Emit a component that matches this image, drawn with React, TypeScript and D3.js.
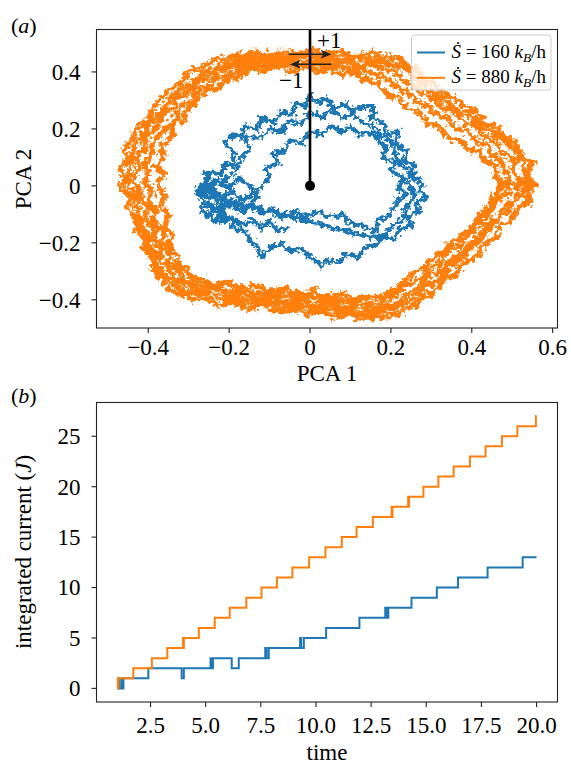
import { useEffect, useRef } from "react";
import * as d3 from "d3";

const BLUE = "#1f77b4";
const ORANGE = "#ff7f0e";
const FONT = "Liberation Serif, Times New Roman, Times, serif";

// (a) PCA trajectories (several laps for the fast one)
const orangeLapOuter: [number, number][] = [
  [0.55, 0.0], [0.54, 0.05], [0.55, 0.08], [0.52, 0.11], [0.51, 0.15], [0.48, 0.17], [0.46, 0.21], [0.43, 0.22],
  [0.41, 0.26], [0.38, 0.28], [0.36, 0.31], [0.33, 0.32], [0.31, 0.36], [0.28, 0.37], [0.27, 0.41], [0.24, 0.42],
  [0.22, 0.45], [0.18, 0.45], [0.15, 0.47], [0.11, 0.45], [0.08, 0.47], [0.04, 0.46], [0.01, 0.48], [-0.03, 0.46],
  [-0.06, 0.47], [-0.1, 0.46], [-0.13, 0.47], [-0.17, 0.46], [-0.21, 0.45], [-0.24, 0.44], [-0.27, 0.41], [-0.3, 0.4],
  [-0.32, 0.36], [-0.35, 0.34], [-0.37, 0.3], [-0.39, 0.27], [-0.4, 0.23], [-0.43, 0.2], [-0.44, 0.16], [-0.46, 0.13],
  [-0.45, 0.09], [-0.47, 0.06], [-0.46, 0.02], [-0.47, -0.01], [-0.44, -0.04], [-0.45, -0.08], [-0.43, -0.11], [-0.43, -0.15],
  [-0.41, -0.18], [-0.41, -0.22], [-0.39, -0.25], [-0.39, -0.29], [-0.37, -0.32], [-0.35, -0.36], [-0.32, -0.38], [-0.29, -0.4],
  [-0.25, -0.4], [-0.22, -0.42], [-0.18, -0.41], [-0.15, -0.43], [-0.11, -0.42], [-0.08, -0.44], [-0.04, -0.43], [-0.01, -0.45],
  [0.03, -0.44], [0.06, -0.46], [0.1, -0.45], [0.13, -0.47], [0.17, -0.46], [0.2, -0.46], [0.23, -0.44], [0.26, -0.42],
  [0.28, -0.39], [0.31, -0.37], [0.33, -0.33], [0.36, -0.31], [0.38, -0.27], [0.41, -0.25], [0.43, -0.21], [0.46, -0.18],
  [0.47, -0.14], [0.5, -0.12], [0.51, -0.08], [0.54, -0.06], [0.54, -0.02], [0.56, 0.01],
];
const orangeLapSecond: [number, number][] = [
  [0.535, 0.01], [0.53, 0.05], [0.52, 0.1], [0.5, 0.13], [0.48, 0.16], [0.45, 0.19], [0.43, 0.2], [0.4, 0.24],
  [0.37, 0.26], [0.35, 0.28], [0.32, 0.31], [0.29, 0.34], [0.27, 0.36], [0.25, 0.4], [0.22, 0.42], [0.19, 0.43],
  [0.16, 0.44], [0.13, 0.45], [0.1, 0.44], [0.06, 0.45], [0.03, 0.45], [0.0, 0.46], [-0.04, 0.45], [-0.07, 0.45],
  [-0.11, 0.45], [-0.14, 0.45], [-0.18, 0.44], [-0.21, 0.43], [-0.24, 0.41], [-0.27, 0.39], [-0.29, 0.36], [-0.32, 0.34],
  [-0.35, 0.3], [-0.36, 0.27], [-0.39, 0.23], [-0.41, 0.19], [-0.43, 0.15], [-0.44, 0.11], [-0.44, 0.08], [-0.45, 0.04],
  [-0.45, 0.0], [-0.43, -0.03], [-0.43, -0.07], [-0.42, -0.1], [-0.42, -0.14], [-0.4, -0.17], [-0.4, -0.21], [-0.38, -0.24],
  [-0.38, -0.28], [-0.36, -0.31], [-0.34, -0.34], [-0.31, -0.37], [-0.28, -0.38], [-0.24, -0.38], [-0.21, -0.4], [-0.17, -0.4],
  [-0.14, -0.41], [-0.1, -0.41], [-0.07, -0.42], [-0.03, -0.42], [0.0, -0.43], [0.04, -0.43], [0.07, -0.44], [0.11, -0.44],
  [0.14, -0.45], [0.18, -0.44], [0.21, -0.43], [0.24, -0.41], [0.27, -0.38], [0.29, -0.35], [0.32, -0.33], [0.34, -0.29],
  [0.37, -0.26], [0.39, -0.23], [0.42, -0.19], [0.44, -0.16], [0.46, -0.12], [0.49, -0.09], [0.5, -0.06], [0.52, -0.03],
  [0.54, 0.0],
];
const orangeLapMiddle: [number, number][] = [
  [0.52, 0.02], [0.5, 0.06], [0.51, 0.09], [0.47, 0.12], [0.46, 0.16], [0.43, 0.17], [0.41, 0.21], [0.38, 0.22],
  [0.36, 0.26], [0.33, 0.27], [0.31, 0.3], [0.28, 0.32], [0.26, 0.35], [0.23, 0.37], [0.21, 0.4], [0.18, 0.41],
  [0.15, 0.43], [0.12, 0.42], [0.09, 0.44], [0.05, 0.43], [0.02, 0.44], [-0.02, 0.43], [-0.05, 0.45], [-0.09, 0.43],
  [-0.12, 0.44], [-0.16, 0.43], [-0.19, 0.42], [-0.22, 0.41], [-0.25, 0.38], [-0.28, 0.37], [-0.3, 0.33], [-0.33, 0.31],
  [-0.34, 0.27], [-0.37, 0.24], [-0.38, 0.2], [-0.41, 0.17], [-0.41, 0.13], [-0.43, 0.1], [-0.42, 0.06], [-0.44, 0.03],
  [-0.42, -0.01], [-0.42, -0.05], [-0.4, -0.08], [-0.41, -0.12], [-0.38, -0.15], [-0.39, -0.19], [-0.37, -0.22], [-0.37, -0.26],
  [-0.35, -0.29], [-0.33, -0.33], [-0.3, -0.35], [-0.27, -0.37], [-0.23, -0.36], [-0.2, -0.39], [-0.16, -0.38], [-0.13, -0.4],
  [-0.09, -0.39], [-0.06, -0.41], [-0.02, -0.4], [0.01, -0.42], [0.05, -0.41], [0.08, -0.43], [0.12, -0.42], [0.15, -0.44],
  [0.19, -0.42], [0.22, -0.41], [0.24, -0.38], [0.27, -0.36], [0.29, -0.32], [0.32, -0.3], [0.35, -0.26], [0.37, -0.24],
  [0.4, -0.2], [0.42, -0.17], [0.44, -0.13], [0.47, -0.11], [0.48, -0.07], [0.51, -0.05], [0.51, -0.01], [0.53, 0.01],
];
const orangeLapFourth: [number, number][] = [
  [0.5, 0.01], [0.48, 0.05], [0.48, 0.08], [0.45, 0.11], [0.44, 0.14], [0.41, 0.16], [0.39, 0.19], [0.36, 0.2],
  [0.34, 0.24], [0.31, 0.25], [0.29, 0.28], [0.26, 0.3], [0.24, 0.33], [0.21, 0.35], [0.19, 0.38], [0.16, 0.39],
  [0.13, 0.41], [0.1, 0.41], [0.07, 0.42], [0.03, 0.42], [0.0, 0.43], [-0.03, 0.42], [-0.07, 0.43], [-0.1, 0.42],
  [-0.14, 0.42], [-0.17, 0.41], [-0.2, 0.39], [-0.23, 0.38], [-0.25, 0.35], [-0.28, 0.34], [-0.29, 0.3], [-0.32, 0.28],
  [-0.33, 0.24], [-0.35, 0.21], [-0.37, 0.18], [-0.39, 0.15], [-0.39, 0.11], [-0.41, 0.08], [-0.4, 0.05], [-0.41, 0.01],
  [-0.39, -0.02], [-0.4, -0.06], [-0.38, -0.09], [-0.39, -0.13], [-0.36, -0.16], [-0.37, -0.2], [-0.35, -0.23], [-0.35, -0.27],
  [-0.32, -0.3], [-0.31, -0.34], [-0.28, -0.35], [-0.25, -0.35], [-0.21, -0.37], [-0.18, -0.37], [-0.14, -0.38], [-0.11, -0.38],
  [-0.07, -0.38], [-0.04, -0.39], [0.0, -0.39], [0.03, -0.4], [0.06, -0.4], [0.1, -0.41], [0.13, -0.42], [0.17, -0.41],
  [0.2, -0.39], [0.22, -0.37], [0.25, -0.34], [0.27, -0.33], [0.3, -0.29], [0.32, -0.27], [0.34, -0.23], [0.37, -0.21],
  [0.39, -0.17], [0.41, -0.15], [0.43, -0.11], [0.45, -0.09], [0.46, -0.05], [0.49, -0.03], [0.49, 0.01],
];
const orangeLapInner: [number, number][] = [
  [0.47, 0.0], [0.46, 0.04], [0.46, 0.07], [0.43, 0.09], [0.42, 0.12], [0.39, 0.13], [0.37, 0.16], [0.34, 0.17],
  [0.32, 0.21], [0.29, 0.22], [0.27, 0.26], [0.24, 0.27], [0.22, 0.31], [0.19, 0.32], [0.17, 0.36], [0.14, 0.37],
  [0.11, 0.4], [0.08, 0.39], [0.05, 0.41], [0.02, 0.4], [-0.01, 0.42], [-0.05, 0.4], [-0.08, 0.42], [-0.12, 0.4],
  [-0.15, 0.41], [-0.18, 0.38], [-0.21, 0.37], [-0.23, 0.34], [-0.26, 0.33], [-0.28, 0.3], [-0.3, 0.27], [-0.31, 0.24],
  [-0.34, 0.21], [-0.34, 0.17], [-0.37, 0.14], [-0.36, 0.1], [-0.38, 0.07], [-0.36, 0.04], [-0.38, 0.01], [-0.36, -0.03],
  [-0.37, -0.07], [-0.35, -0.1], [-0.36, -0.14], [-0.34, -0.17], [-0.35, -0.21], [-0.33, -0.24], [-0.33, -0.27], [-0.3, -0.3],
  [-0.29, -0.33], [-0.26, -0.33], [-0.24, -0.35], [-0.2, -0.34], [-0.17, -0.36], [-0.13, -0.35], [-0.1, -0.37], [-0.06, -0.36],
  [-0.03, -0.38], [0.01, -0.37], [0.04, -0.39], [0.08, -0.38], [0.11, -0.4], [0.15, -0.39], [0.18, -0.39], [0.21, -0.36],
  [0.23, -0.34], [0.25, -0.31], [0.28, -0.29], [0.3, -0.26], [0.33, -0.23], [0.35, -0.2], [0.38, -0.17], [0.4, -0.14],
  [0.42, -0.1], [0.44, -0.08], [0.45, -0.04], [0.47, -0.02], [0.47, 0.01],
];

const blueLapOuter: [number, number][] = [
  [-0.28, -0.01], [-0.25, 0.03], [-0.26, 0.05], [-0.22, 0.04], [-0.21, 0.08], [-0.19, 0.07], [-0.19, 0.12], [-0.21, 0.15],
  [-0.19, 0.18], [-0.17, 0.17], [-0.16, 0.21], [-0.13, 0.2], [-0.12, 0.24], [-0.09, 0.22], [-0.07, 0.26], [-0.04, 0.25],
  [-0.04, 0.29], [-0.01, 0.28], [0.0, 0.32], [0.02, 0.29], [0.04, 0.31], [0.06, 0.27], [0.09, 0.29], [0.1, 0.26],
  [0.13, 0.28], [0.16, 0.28], [0.15, 0.24], [0.18, 0.22], [0.19, 0.18], [0.22, 0.19], [0.21, 0.15], [0.24, 0.12],
  [0.23, 0.09], [0.26, 0.07], [0.25, 0.03], [0.28, 0.01], [0.27, -0.02], [0.29, -0.04], [0.26, -0.06], [0.27, -0.09],
  [0.24, -0.11], [0.25, -0.14], [0.22, -0.15], [0.21, -0.19], [0.18, -0.18], [0.16, -0.21], [0.13, -0.22], [0.12, -0.25],
  [0.09, -0.24], [0.07, -0.27], [0.04, -0.26], [0.03, -0.28], [0.0, -0.25], [-0.02, -0.22], [-0.05, -0.23], [-0.07, -0.2],
  [-0.1, -0.22], [-0.12, -0.25], [-0.13, -0.21], [-0.15, -0.19], [-0.16, -0.16], [-0.19, -0.15], [-0.19, -0.12], [-0.22, -0.11],
  [-0.23, -0.08], [-0.26, -0.07], [-0.27, -0.04], [-0.28, -0.02],
];
const blueLapTop: [number, number][] = [
  [-0.21, 0.02], [-0.18, 0.06], [-0.17, 0.1], [-0.15, 0.13], [-0.16, 0.17], [-0.12, 0.17], [-0.1, 0.2], [-0.07, 0.19],
  [-0.05, 0.23], [-0.02, 0.22], [0.0, 0.26], [0.03, 0.24], [0.05, 0.27], [0.08, 0.24], [0.11, 0.25], [0.13, 0.22],
  [0.16, 0.21], [0.17, 0.18], [0.2, 0.16], [0.21, 0.12], [0.22, 0.08], [0.25, 0.05], [0.24, 0.01], [0.26, -0.03],
  [0.24, -0.07], [0.23, -0.12], [0.2, -0.14], [0.19, -0.17], [0.15, -0.18],
];
const blueLapInner: [number, number][] = [
  [-0.27, -0.03], [-0.24, -0.01], [-0.22, -0.04], [-0.19, -0.02], [-0.17, -0.05], [-0.14, -0.03], [-0.12, 0.0], [-0.1, 0.03],
  [-0.11, 0.06], [-0.08, 0.08], [-0.09, 0.11], [-0.06, 0.13], [-0.05, 0.16], [-0.02, 0.15], [0.0, 0.19], [0.03, 0.18],
  [0.05, 0.21], [0.08, 0.19], [0.1, 0.21], [0.12, 0.18], [0.15, 0.19], [0.17, 0.16], [0.19, 0.13], [0.18, 0.1],
  [0.21, 0.08], [0.2, 0.05], [0.23, 0.03], [0.22, -0.01], [0.24, -0.03], [0.21, -0.06], [0.2, -0.1], [0.17, -0.12],
  [0.16, -0.16], [0.13, -0.14], [0.1, -0.13], [0.08, -0.1], [0.05, -0.11], [0.02, -0.09], [-0.01, -0.11], [-0.04, -0.09],
  [-0.07, -0.11], [-0.09, -0.08], [-0.12, -0.1], [-0.14, -0.07], [-0.17, -0.09], [-0.2, -0.06], [-0.22, -0.09], [-0.25, -0.06],
  [-0.27, -0.08], [-0.24, -0.12], [-0.21, -0.1],
];
const blueLobe: [number, number][] = [
  [-0.24, -0.03], [-0.27, 0.0], [-0.23, 0.02], [-0.2, -0.01], [-0.18, 0.03], [-0.15, 0.0], [-0.13, -0.04], [-0.16, -0.08],
  [-0.19, -0.05], [-0.22, -0.07], [-0.25, -0.1], [-0.23, -0.13], [-0.19, -0.11], [-0.17, -0.14], [-0.14, -0.12], [-0.12, -0.15],
  [-0.1, -0.12], [-0.08, -0.16], [-0.05, -0.14],
];

const pcaXTicks = [-0.4, -0.2, 0, 0.2, 0.4, 0.6];
const pcaYTicks = [-0.4, -0.2, 0, 0.2, 0.4];
const legendRates = ["160", "880"];

// (b) integrated current, [time, J] at each jump
const blueSteps: [number, number][] = [
  [1.0, 0], [1.05, 1], [1.1, 0], [1.2, 1], [1.24, 0], [1.27, 1], [2.4, 2], [3.91, 1], [4.01, 2],
  [5.22, 3], [5.27, 2], [5.33, 3], [6.18, 2], [6.5, 3], [7.7, 4], [7.76, 3], [7.86, 4],
  [9.28, 5], [9.33, 4], [9.45, 5], [10.46, 6], [11.97, 7], [13.14, 8], [13.2, 7], [13.28, 8],
  [14.33, 9], [15.48, 10], [16.44, 11], [17.78, 12], [19.37, 13], [20.0, 13],
];
const orangeSteps: [number, number][] = [
  [1.0, 0], [1.02, 1], [1.03, 0], [1.05, 1], [1.72, 2], [2.56, 3], [3.26, 4], [3.97, 5], [3.99, 4], [4.01, 5],
  [4.69, 6], [5.41, 7], [6.09, 8], [6.84, 9], [7.53, 10], [8.23, 11], [8.93, 12], [9.69, 13],
  [10.43, 14], [11.17, 15], [11.84, 16], [12.58, 17], [13.43, 18], [13.45, 17], [13.47, 18],
  [14.18, 19], [14.2, 18], [14.22, 19], [14.87, 20], [15.55, 21], [16.24, 22], [16.98, 23], [17.69, 24],
  [18.43, 25], [19.13, 26], [19.97, 27], [20.0, 27],
];
const timeTicks = [2.5, 5, 7.5, 10, 12.5, 15, 17.5, 20];
const currentTicks = [0, 5, 10, 15, 20, 25];

const W = 571;
const H = 765;
const FS = "23px";

function drawFrame(g, x, y, xTicks, yTicks, fmtX, fmtY, labelBase) {
  const [x0, x1] = x.range();
  const [y0, y1] = y.range();
  g.append("rect")
    .attr("x", x0)
    .attr("y", y1)
    .attr("width", x1 - x0)
    .attr("height", y0 - y1)
    .attr("fill", "none")
    .attr("stroke", "#222")
    .attr("stroke-width", 1.1);

  xTicks.forEach((t) => {
    g.append("line")
      .attr("x1", x(t)).attr("x2", x(t))
      .attr("y1", y0).attr("y2", y0 + 5)
      .attr("stroke", "#222").attr("stroke-width", 1.1);
    g.append("text")
      .attr("x", x(t))
      .attr("y", labelBase)
      .attr("text-anchor", "middle")
      .style("font-size", FS)
      .text(fmtX(t));
  });
  yTicks.forEach((t) => {
    g.append("line")
      .attr("x1", x0 - 5).attr("x2", x0)
      .attr("y1", y(t)).attr("y2", y(t))
      .attr("stroke", "#222").attr("stroke-width", 1.1);
    g.append("text")
      .attr("x", x0 - 16)
      .attr("y", y(t))
      .attr("dy", "0.34em")
      .attr("text-anchor", "end")
      .style("font-size", FS)
      .text(fmtY(t));
  });
}

function App() {
  const ref = useRef(null);

  useEffect(() => {
    document.body.style.margin = "0";
    const svg = d3.select(ref.current);
    svg.selectAll("*").remove();
    svg.attr("font-family", FONT);

    const defs = svg.append("defs");
    // rough texture for the noisy trajectories
    [["jitterO", 0.2, 12, 4], ["jitterB", 0.25, 10, 9]].forEach(([id, freq, scale, seed]) => {
      const f = defs.append("filter").attr("id", id)
        .attr("filterUnits", "userSpaceOnUse")
        .attr("x", 0).attr("y", 0).attr("width", W).attr("height", 400);
      f.append("feTurbulence").attr("type", "fractalNoise")
        .attr("baseFrequency", freq).attr("numOctaves", 3).attr("seed", seed).attr("result", "n");
      f.append("feDisplacementMap").attr("in", "SourceGraphic").attr("in2", "n")
        .attr("scale", scale).attr("xChannelSelector", "R").attr("yChannelSelector", "G");
    });

    // ---------- panel (a) ----------
    const xa = d3.scaleLinear().domain([-0.528, 0.612]).range([96.5, 557.5]);
    const ya = d3.scaleLinear().domain([-0.499, 0.549]).range([328, 29.5]);

    defs.append("clipPath").attr("id", "clipA")
      .append("rect").attr("x", 96.5).attr("y", 29.5).attr("width", 461).attr("height", 298.5);

    const pa = svg.append("g").attr("clip-path", "url(#clipA)");
    const traj = d3.line().x((d) => xa(d[0])).y((d) => ya(d[1]));

    pa.append("path")
      .datum([...blueLapOuter, ...blueLapTop, ...blueLapInner, ...blueLobe])
      .attr("fill", "none").attr("stroke", BLUE).attr("stroke-width", 4.2)
      .attr("stroke-linejoin", "round").attr("filter", "url(#jitterB)").attr("d", traj);
    pa.append("path")
      .datum([...orangeLapOuter, ...orangeLapSecond, ...orangeLapMiddle, ...orangeLapFourth, ...orangeLapInner])
      .attr("fill", "none").attr("stroke", ORANGE).attr("stroke-width", 5)
      .attr("stroke-linejoin", "round").attr("filter", "url(#jitterO)").attr("d", traj);

    // counting line and crossing arrows
    pa.append("line")
      .attr("x1", xa(0)).attr("x2", xa(0))
      .attr("y1", ya(0)).attr("y2", ya(0.6))
      .attr("stroke", "black").attr("stroke-width", 2.6);
    pa.append("circle").attr("cx", xa(0)).attr("cy", ya(0)).attr("r", 5).attr("fill", "black");

    const arrow = (xFrom, xTo, yv) => {
      const dir = Math.sign(xa(xTo) - xa(xFrom));
      const tip = xa(xTo);
      pa.append("line")
        .attr("x1", xa(xFrom)).attr("x2", tip - dir * 6)
        .attr("y1", ya(yv)).attr("y2", ya(yv))
        .attr("stroke", "#222").attr("stroke-width", 1.5);
      pa.append("path")
        .attr("d", `M${tip},${ya(yv)} L${tip - dir * 11},${ya(yv) - 4.5} L${tip - dir * 8},${ya(yv)} L${tip - dir * 11},${ya(yv) + 4.5} Z`)
        .attr("fill", "#222");
    };
    arrow(-0.053, 0.053, 0.462);
    arrow(0.053, -0.05, 0.427);

    svg.append("text").attr("x", 317).attr("y", 48).style("font-size", FS).text("+1");
    svg.append("text").attr("x", 279).attr("y", 88).style("font-size", FS).text("\u22121");

    drawFrame(
      svg.append("g"), xa, ya, pcaXTicks, pcaYTicks,
      (v) => (v === 0 ? "0" : d3.format(".1f")(v)),
      (v) => (v === 0 ? "0" : d3.format(".1f")(v)),
      355
    );

    // legend
    const lg = svg.append("g");
    lg.append("rect")
      .attr("x", 411.5).attr("y", 35).attr("width", 139.5).attr("height", 55).attr("rx", 3)
      .attr("fill", "white").attr("fill-opacity", 0.8)
      .attr("stroke", "#ccc").attr("stroke-width", 1);
    [BLUE, ORANGE].forEach((c, i) => {
      const yy = 52.5 + i * 25.3;
      lg.append("line").attr("x1", 417).attr("x2", 445).attr("y1", yy).attr("y2", yy)
        .attr("stroke", c).attr("stroke-width", 2);
      const t = lg.append("text").attr("x", 451.5).attr("y", yy + 5.5).style("font-size", "19px");
      t.append("tspan").style("font-style", "italic").text("\u1E60");
      t.append("tspan").text(` = ${legendRates[i]} `);
      t.append("tspan").style("font-style", "italic").text("k");
      t.append("tspan").style("font-style", "italic").style("font-size", "13.5px").attr("dy", 4).text("B");
      t.append("tspan").attr("dy", -4).text("/h");
    });

    svg.append("text").attr("x", 327).attr("y", 381).attr("text-anchor", "middle")
      .style("font-size", FS).text("PCA 1");
    svg.append("text").attr("transform", "translate(31,179) rotate(-90)").attr("text-anchor", "middle")
      .style("font-size", FS).text("PCA 2");
    const la = svg.append("text").attr("x", 11).attr("y", 33).style("font-size", "22px");
    la.append("tspan").text("(");
    la.append("tspan").style("font-style", "italic").text("a");
    la.append("tspan").text(")");

    // ---------- panel (b) ----------
    const xb = d3.scaleLinear().domain([0.05, 20.95]).range([96.5, 557.5]);
    const yb = d3.scaleLinear().domain([-1.35, 28.35]).range([702, 402.5]);
    const step = d3.line().curve(d3.curveStepAfter).x((d) => xb(d[0])).y((d) => yb(d[1]));

    const pb = svg.append("g");
    pb.append("path").datum(blueSteps)
      .attr("fill", "none").attr("stroke", BLUE).attr("stroke-width", 2).attr("d", step);
    pb.append("path").datum(orangeSteps)
      .attr("fill", "none").attr("stroke", ORANGE).attr("stroke-width", 2).attr("d", step);

    drawFrame(
      svg.append("g"), xb, yb, timeTicks, currentTicks,
      (v) => d3.format(".1f")(v),
      (v) => d3.format("d")(v),
      733
    );

    svg.append("text").attr("x", 327).attr("y", 760).attr("text-anchor", "middle")
      .style("font-size", FS).text("time");
    const yl = svg.append("text").attr("transform", "translate(31,552) rotate(-90)")
      .attr("text-anchor", "middle").style("font-size", FS);
    yl.append("tspan").text("integrated current (");
    yl.append("tspan").style("font-style", "italic").text("J");
    yl.append("tspan").text(")");
    const lb = svg.append("text").attr("x", 11).attr("y", 403).style("font-size", "22px");
    lb.append("tspan").text("(");
    lb.append("tspan").style("font-style", "italic").text("b");
    lb.append("tspan").text(")");
  }, []);

  return (
    <svg
      ref={ref}
      width={W}
      height={H}
      style={{ position: "absolute", left: 0, top: 0, background: "white" }}
    />
  );
}

export default App;
